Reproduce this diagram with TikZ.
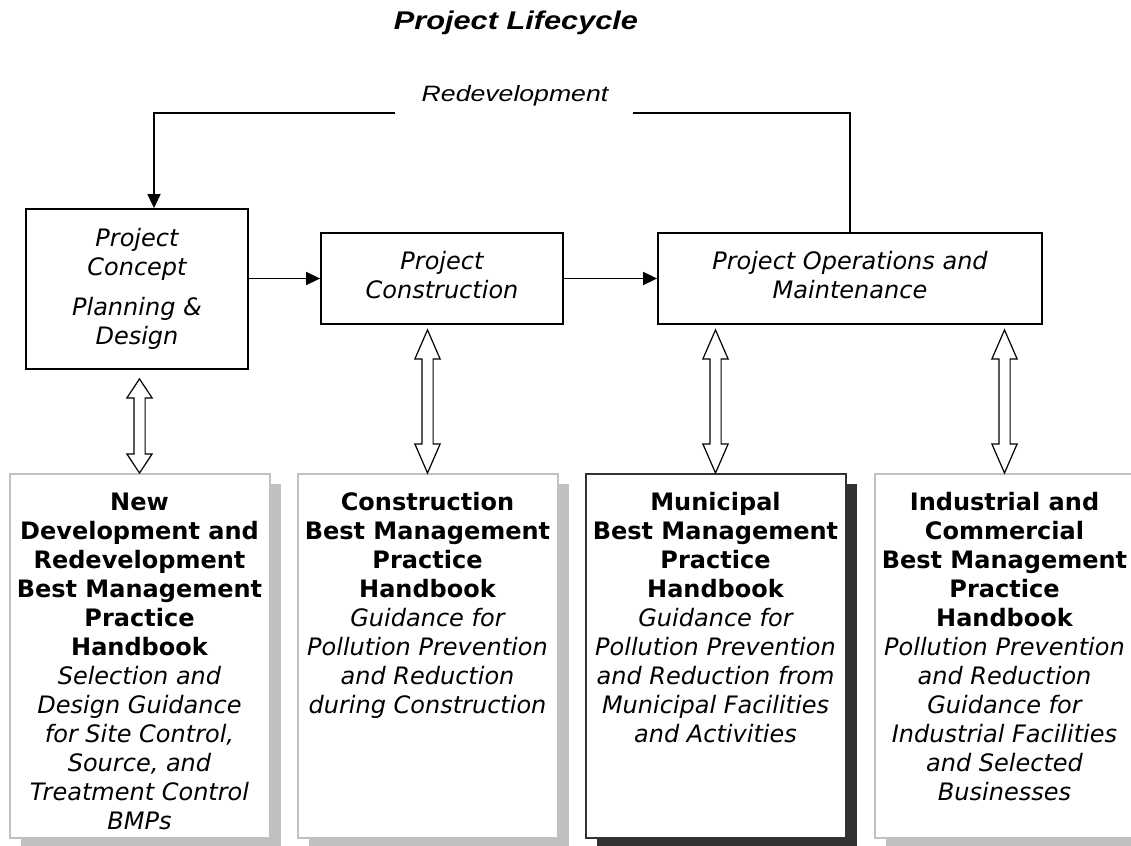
\documentclass[tikz,border=0pt]{standalone}
\usepackage{fontspec}
\setmainfont{DejaVu Sans}
\newfontfamily\widearial[FakeStretch=1.2]{Liberation Sans}
\usepackage{tikz}
\usetikzlibrary{positioning,calc,shadows,arrows.meta}

\definecolor{paleline}{HTML}{C0C0C0}
\definecolor{darkline}{HTML}{333333}

\newcommand{\handbook}[1]{\parbox[c][180pt][t]{128pt}{\centering\rule{0pt}{17pt}#1}}
\newcommand{\lowstrut}{\rule[-4pt]{0pt}{4pt}}
% open double-headed arrow, #3 = head length
\newcommand{\twoway}[3]{%
  \draw[twoway] let \p1=(#1), \p2=(#2) in
    (\x2,\y1) -- (\x2+6.3pt,\y1-#3) -- (\x2+2.8pt,\y1-#3) -- (\x2+2.8pt,\y2+#3)
    -- (\x2+6.3pt,\y2+#3) -- (\x2,\y2) -- (\x2-6.3pt,\y2+#3) -- (\x2-2.8pt,\y2+#3)
    -- (\x2-2.8pt,\y1-#3) -- (\x2-6.3pt,\y1-#3) -- cycle;}

\begin{document}
\begin{tikzpicture}[x=0.5pt, y=-0.5pt, >={Triangle[length=7pt,width=6.5pt]},
    stage/.style={draw, line width=0.9pt, align=center, inner sep=2pt,
      font=\fontsize{12}{14.5}\selectfont\itshape},
    book/.style={rectangle, draw=paleline, line width=1pt, fill=white, anchor=north,
      inner sep=1pt, font=\fontsize{12}{14.5}\selectfont,
      drop shadow={shadow xshift=5.5pt, shadow yshift=-5pt, fill=paleline, opacity=1}},
    link/.style={line width=0.8pt},
    twoway/.style={line width=0.6pt, fill=white}]
    \fill[white] (0,0) rectangle (1131,846);
    \useasboundingbox (0,0) rectangle (1131,846);

    % Title and loop back
    \node (title) at (516,30) [anchor=base, font=\widearial\fontsize{12.8}{14}\selectfont\bfseries\itshape] {Project Lifecycle};
    \node (redev) at (515,101) [anchor=base, font=\widearial\fontsize{11.1}{12}\selectfont\itshape] {Redevelopment};

    % Lifecycle stages
    \node (plan) [stage, minimum width=111pt, minimum height=80pt] at (137,289) {Project\\Concept\\[5.5pt]Planning \&\\Design};
    \node (constr) [stage, minimum width=121pt, minimum height=45.5pt] at (442,278.5) {Project\\Construction\lowstrut};
    \node (operate) [stage, minimum width=192pt, minimum height=45.5pt] at (850,278.5) {Project Operations and\\Maintenance\lowstrut};
    \draw [link,->] (plan.east |- constr.west) -- (constr.west);
    \draw [link,->] (constr.east) -- (operate.west);
    \coordinate (gapL) at (395,113);
    \coordinate (gapR) at (633,113);
    \draw [link] (operate.north) |- (gapR);
    \draw [link,->] (gapL) -| ([xshift=8.5pt]plan.north);

    % Handbooks
    \node (bmpA) [book] at (139.5,473) {\handbook{{\bfseries New\\Development and\\Redevelopment\\Best Management\\Practice\\Handbook}\\
      {\itshape Selection and\\Design Guidance\\for Site Control,\\Source, and\\Treatment Control\\BMPs}}};
    \node (bmpB) [book, right=13pt of bmpA] {\handbook{{\bfseries Construction\\Best Management\\Practice\\Handbook}\\
      {\itshape Guidance for\\Pollution Prevention\\and Reduction\\during Construction}}};
    \node (bmpC) [book, draw=darkline, drop shadow={shadow xshift=5.5pt, shadow yshift=-5pt, fill=darkline, opacity=1}, right=13pt of bmpB] {\handbook{{\bfseries Municipal\\Best Management\\Practice\\Handbook}\\
      {\itshape Guidance for\\Pollution Prevention\\and Reduction from\\Municipal Facilities\\and Activities}}};
    \node (bmpD) [book, right=13.5pt of bmpC] {\handbook{{\bfseries Industrial and\\Commercial\\Best Management\\Practice\\Handbook}\\
      {\itshape Pollution Prevention\\and Reduction\\Guidance for\\Industrial Facilities\\and Selected\\Businesses}}};

    % stage <-> handbook
    \twoway{$(plan.south)+(0,-4.5pt)$}{bmpA.north}{9.5pt}
    \twoway{$(constr.south)+(0,-2.5pt)$}{bmpB.north}{14.5pt}
    \twoway{$(operate.south)+(0,-2.5pt)$}{bmpC.north}{14.5pt}
    \twoway{$(operate.south)+(0,-2.5pt)$}{bmpD.north}{14.5pt}
\end{tikzpicture}
\end{document}
